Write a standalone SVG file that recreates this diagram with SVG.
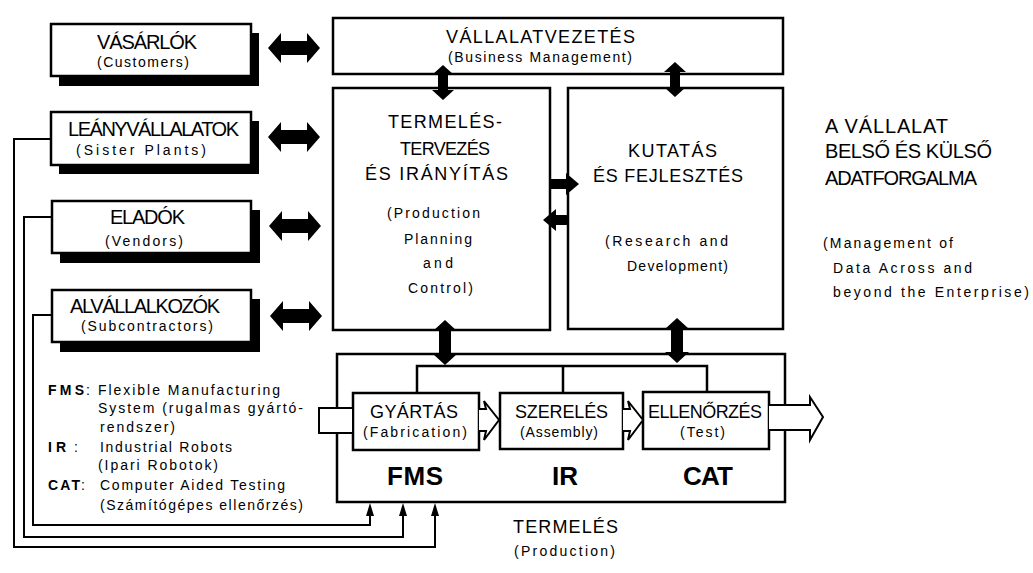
<svg xmlns="http://www.w3.org/2000/svg" width="1033" height="573" viewBox="0 0 1033 573">
<style>
.bg{fill:#fff}
.box{fill:#fff;stroke:#000;stroke-width:2.5}
.shadow{fill:#000}
.ln{fill:none;stroke:#000;stroke-width:2}
.arr{fill:#000}
.hollow{fill:#fff;stroke:#000;stroke-width:2;stroke-linejoin:miter}
text{font-family:"Liberation Sans",Arial,sans-serif;fill:#000}
.big{font-size:20px}
.mid{font-size:18px}
.sm{font-size:14px}
.bold{font-weight:bold}
.abbr{font-size:26px;font-weight:bold}
</style>
<rect class="bg" x="0" y="0" width="1033" height="573"/>

<g id="customers">
<rect class="shadow" x="59" y="33" width="200" height="53"/>
<rect class="box" x="51" y="24" width="200" height="52"/>
<text class="big" x="97" y="49" textLength="100" lengthAdjust="spacing">VÁSÁRLÓK</text>
<text class="sm" x="97" y="67" textLength="92" lengthAdjust="spacing">(Customers)</text>
</g>
<g id="sister-plants">
<rect class="shadow" x="59" y="121" width="200" height="53"/>
<rect class="box" x="51" y="112" width="200" height="53"/>
<text class="big" x="68" y="136" textLength="171" lengthAdjust="spacing">LEÁNYVÁLLALATOK</text>
<text class="sm" x="76" y="155" textLength="130" lengthAdjust="spacing">(Sister  Plants)</text>
</g>
<g id="vendors">
<rect class="shadow" x="60" y="210" width="200" height="53"/>
<rect class="box" x="52" y="201" width="199" height="52"/>
<text class="big" x="110" y="224" textLength="75" lengthAdjust="spacing">ELADÓK</text>
<text class="sm" x="105" y="246" textLength="78" lengthAdjust="spacing">(Vendors)</text>
</g>
<g id="subcontractors">
<rect class="shadow" x="60" y="299" width="200" height="53"/>
<rect class="box" x="52" y="290" width="199" height="52"/>
<text class="big" x="70" y="313" textLength="150" lengthAdjust="spacing">ALVÁLLALKOZÓK</text>
<text class="sm" x="81" y="331" textLength="132" lengthAdjust="spacing">(Subcontractors)</text>
</g>

<g id="business-management">
<rect class="box" x="333" y="18" width="450" height="56"/>
<text class="mid" x="446" y="43" textLength="189" lengthAdjust="spacing">VÁLLALATVEZETÉS</text>
<text class="sm" x="448" y="62" textLength="184" lengthAdjust="spacing">(Business  Management)</text>
</g>

<g id="production-planning">
<rect class="box" x="333" y="88" width="217" height="242"/>
<text class="mid" x="388" y="128" textLength="114" lengthAdjust="spacing">TERMELÉS-</text>
<text class="mid" x="400" y="155" textLength="90" lengthAdjust="spacing">TERVEZÉS</text>
<text class="mid" x="365" y="180" textLength="143" lengthAdjust="spacing">ÉS IRÁNYÍTÁS</text>
<text class="sm" x="387" y="218" textLength="93" lengthAdjust="spacing">(Production</text>
<text class="sm" x="404" y="244" textLength="68" lengthAdjust="spacing">Planning</text>
<text class="sm" x="423" y="268" textLength="30" lengthAdjust="spacing">and</text>
<text class="sm" x="408" y="293" textLength="65" lengthAdjust="spacing">Control)</text>
</g>

<g id="research-development">
<rect class="box" x="568" y="88" width="215" height="241"/>
<text class="mid" x="628" y="157" textLength="89" lengthAdjust="spacing">KUTATÁS</text>
<text class="mid" x="593" y="182" textLength="150" lengthAdjust="spacing">ÉS FEJLESZTÉS</text>
<text class="sm" x="605" y="246" textLength="123" lengthAdjust="spacing">(Research  and</text>
<text class="sm" x="627" y="271" textLength="101" lengthAdjust="spacing">Development)</text>
</g>

<g id="production">
<rect class="box" x="337" y="354" width="448" height="148"/>
<text class="mid" x="513" y="533" textLength="105" lengthAdjust="spacing">TERMELÉS</text>
<text class="sm" x="514" y="556" textLength="101" lengthAdjust="spacing">(Production)</text>
<text class="abbr" x="387" y="485" textLength="56" lengthAdjust="spacing">FMS</text>
<text class="abbr" x="552" y="485" textLength="26" lengthAdjust="spacing">IR</text>
<text class="abbr" x="683" y="485" textLength="50" lengthAdjust="spacing">CAT</text>
</g>

<g id="fabrication">
<rect class="box" x="353" y="393" width="126" height="57"/>
<text class="mid" x="370" y="418" textLength="88" lengthAdjust="spacing">GYÁRTÁS</text>
<text class="sm" x="363" y="437" textLength="104" lengthAdjust="spacing">(Fabrication)</text>
</g>
<g id="assembly">
<rect class="box" x="500" y="393" width="123" height="56"/>
<text class="mid" x="515" y="418" textLength="93" lengthAdjust="spacing">SZERELÉS</text>
<text class="sm" x="520" y="437" textLength="78" lengthAdjust="spacing">(Assembly)</text>
</g>
<g id="test">
<rect class="box" x="643" y="392" width="126" height="57"/>
<text class="mid" x="648" y="418" textLength="114" lengthAdjust="spacing">ELLENŐRZÉS</text>
<text class="sm" x="680" y="437" textLength="45" lengthAdjust="spacing">(Test)</text>
</g>

<g id="title">
<text class="big" x="825" y="133" textLength="123" lengthAdjust="spacing">A VÁLLALAT</text>
<text class="big" x="825" y="158" textLength="167" lengthAdjust="spacing">BELSŐ ÉS KÜLSŐ</text>
<text class="big" x="825" y="185" textLength="152" lengthAdjust="spacing">ADATFORGALMA</text>
<text class="sm" x="823" y="248" textLength="130" lengthAdjust="spacing">(Management of</text>
<text class="sm" x="833" y="273" textLength="139" lengthAdjust="spacing">Data Across and</text>
<text class="sm" x="833" y="297" textLength="196" lengthAdjust="spacing">beyond the Enterprise)</text>
</g>

<g id="legend">
<text class="sm bold" x="48" y="395" textLength="36" lengthAdjust="spacing">FMS</text>
<text class="sm" x="86" y="395">:</text>
<text class="sm" x="98" y="395" textLength="182" lengthAdjust="spacing">Flexible Manufacturing</text>
<text class="sm" x="98" y="413" textLength="205" lengthAdjust="spacing">System (rugalmas gyártó-</text>
<text class="sm" x="100" y="432" textLength="75" lengthAdjust="spacing">rendszer)</text>
<text class="sm bold" x="48" y="452" textLength="18" lengthAdjust="spacing">IR</text>
<text class="sm" x="74" y="452">:</text>
<text class="sm" x="100" y="452" textLength="132" lengthAdjust="spacing">Industrial Robots</text>
<text class="sm" x="98" y="470" textLength="120" lengthAdjust="spacing">(Ipari Robotok)</text>
<text class="sm bold" x="48" y="490" textLength="32" lengthAdjust="spacing">CAT</text>
<text class="sm" x="81" y="490">:</text>
<text class="sm" x="100" y="490" textLength="185" lengthAdjust="spacing">Computer Aided Testing</text>
<text class="sm" x="100" y="510" textLength="203" lengthAdjust="spacing">(Számítógépes ellenőrzés)</text>
</g>

<g id="connectors">
<path class="arr" d="M268,48 L281,33 L281,41 L307,41 L307,33 L320,48 L307,63 L307,55 L281,55 L281,63 Z"/>
<path class="arr" d="M268,137 L281,122 L281,130 L307,130 L307,122 L320,137 L307,152 L307,144 L281,144 L281,152 Z"/>
<path class="arr" d="M269,226 L282,211 L282,219 L308,219 L308,211 L321,226 L308,241 L308,233 L282,233 L282,241 Z"/>
<path class="arr" d="M270,316 L283,301 L283,309 L309,309 L309,301 L322,316 L309,331 L309,323 L283,323 L283,331 Z"/>
<path class="arr" d="M443,65 L454,75 L448,75 L448,90 L454,90 L443,100 L432,90 L438,90 L438,75 L432,75 Z"/>
<path class="arr" d="M675,62 L686,72 L680,72 L680,87 L686,87 L675,97 L664,87 L670,87 L670,72 L664,72 Z"/>
<path class="arr" d="M445,320 L457,331 L451,331 L451,354 L457,354 L445,365 L433,354 L439,354 L439,331 L433,331 Z"/>
<path class="arr" d="M677,318 L689,329 L683,329 L683,352 L689,352 L677,363 L665,352 L671,352 L671,329 L665,329 Z"/>
<path class="arr" d="M550,179 L566,179 L566,173 L579,184 L566,195 L566,189 L550,189 Z"/>
<path class="arr" d="M568,215 L556,215 L556,209 L543,220 L556,231 L556,225 L568,225 Z"/>
<path class="ln" style="stroke-width:2.5" d="M417,393 V366 H707 V392 M563,366 V393"/>
<path class="hollow" d="M479,409 L486,409 L484,401 L499,420 L484,440 L486,431 L479,431"/>
<path class="hollow" d="M623,409 L630,409 L628,401 L643,420 L628,440 L630,431 L623,431"/>
<path class="hollow" d="M769,405 L810,405 L810,397 L823,417 L810,440 L810,430 L769,430"/>
<rect class="hollow" x="319" y="408" width="34" height="25"/>
<path class="ln" d="M51,139 H14 V547 H435 V514"/>
<path class="ln" d="M52,217 H24 V537 H403 V514"/>
<path class="ln" d="M52,315 H33 V525 H370 V514"/>
<path class="arr" d="M435,503 L439,516 L431,516 Z"/>
<path class="arr" d="M403,503 L407,516 L399,516 Z"/>
<path class="arr" d="M370,503 L374,516 L366,516 Z"/>
</g>
</svg>
